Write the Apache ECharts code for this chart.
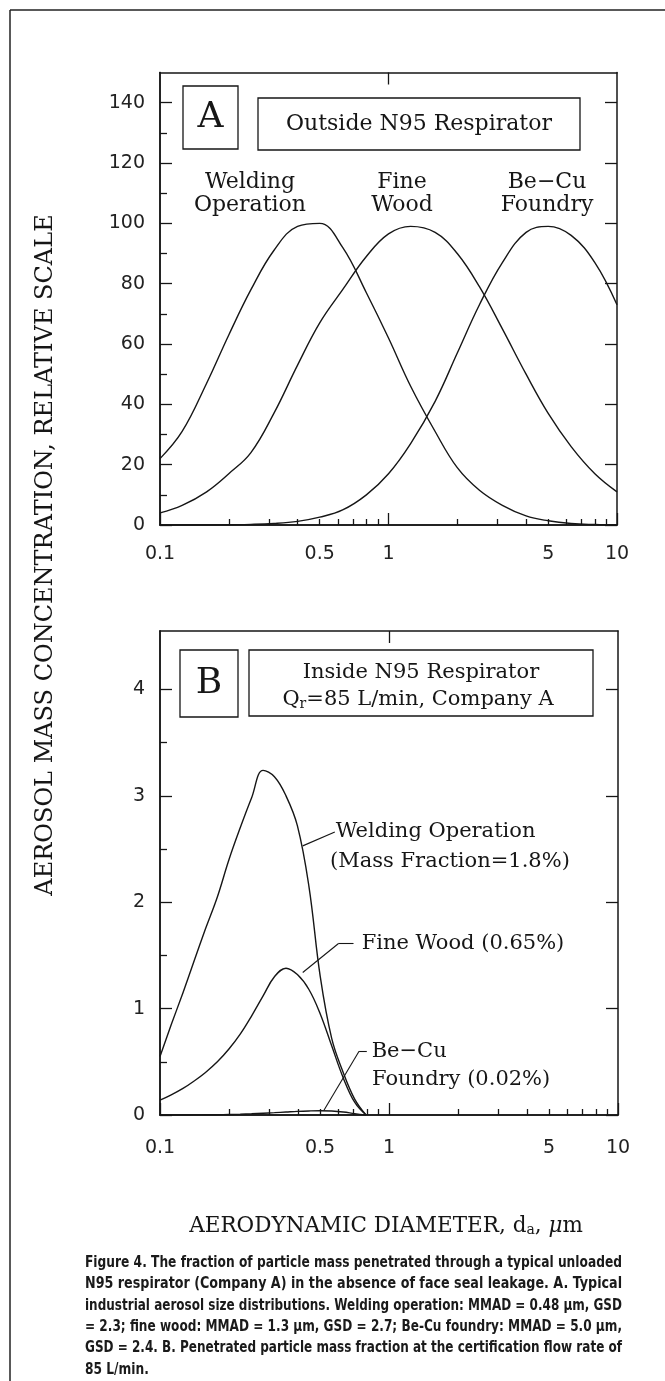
<!DOCTYPE html>
<html><head><meta charset="utf-8">
<script src="https://cdn.jsdelivr.net/npm/echarts@6/dist/echarts.min.js"></script>
<style>html,body{margin:0;padding:0;background:#fff}#c{width:665px;height:1381px}</style>
</head><body><div id="c"></div>
<script>
// ---------- Axis ticks / labels ----------
const xTickValues = [0.1, 0.5, 1, 5, 10];
const xTickLabels = ['0.1', '0.5', '1', '5', '10'];
const xMajorTicks = [0.1, 1, 10];
const xMinorTicks = [0.2, 0.3, 0.4, 0.5, 0.6, 0.7, 0.8, 0.9, 2, 3, 4, 5, 6, 7, 8, 9];
const yALabels = [0, 20, 40, 60, 80, 100, 120, 140];
const yAMinor = [10, 30, 50, 70, 90, 110, 130];
const yBLabels = [0, 1, 2, 3, 4];
const yBMinor = [0.5, 1.5, 2.5, 3.5];

// ---------- Panel A: outside respirator (relative scale) ----------
const dA = [0.1, 0.125, 0.16, 0.2, 0.25, 0.315, 0.4, 0.5, 0.63, 0.8, 1, 1.25, 1.6, 2, 2.5, 3.15, 4, 5, 6.3, 8, 10];
const weldA = [22, 31, 47, 63, 78, 91, 99, 100, 92, 77, 62, 46, 31, 19, 11.5, 6.5, 3, 1.4, 0.5, 0.15, 0];
const woodA = [4, 6.5, 11, 17, 24, 37, 53, 67, 78, 89, 96.5, 99, 97, 90, 79, 65, 50, 37, 26, 17, 11];
const becuA = [0, 0, 0, 0.1, 0.2, 0.5, 1.2, 2.6, 5, 10, 17, 27, 41, 57, 73, 87, 97, 99, 96, 87, 73];

// ---------- Panel B: inside respirator ----------
const dB = [0.1, 0.112, 0.126, 0.141, 0.158, 0.178, 0.2, 0.224, 0.251, 0.282, 0.316, 0.355, 0.398, 0.447, 0.501, 0.562, 0.631, 0.708, 0.794];
const weldB = [0.55, 0.85, 1.15, 1.45, 1.75, 2.05, 2.4, 2.7, 2.98, 3.24, 3.18, 3.0, 2.72, 2.15, 1.3, 0.72, 0.4, 0.15, 0];
const woodB = [0.14, 0.19, 0.25, 0.32, 0.4, 0.5, 0.62, 0.76, 0.93, 1.12, 1.3, 1.38, 1.32, 1.18, 0.95, 0.65, 0.35, 0.12, 0];
const becuB = [0, 0, 0, 0.001, 0.002, 0.003, 0.005, 0.008, 0.012, 0.017, 0.022, 0.028, 0.034, 0.038, 0.04, 0.037, 0.028, 0.013, 0];

const INK = '#161616';
const SERIF = '"DejaVu Serif", "Liberation Serif", serif';
const SANS = '"DejaVu Sans", "Liberation Sans", sans-serif';
const CAPFONT = 'bold 15px "Liberation Sans Narrow", "DejaVu Sans Condensed", "Roboto Condensed", sans-serif';
const lg = v => Math.log10(v);
const toXY = (xs, ys) => xs.map((x, i) => [lg(x), ys[i]]);

function xAxisDef(grid, pos, ticks, len, labels, margin) {
  return {
    type: 'value', gridIndex: grid, position: pos, min: -1, max: 1,
    splitLine: { show: false },
    axisLine: { show: true, onZero: false, lineStyle: { color: INK, width: 1.5 } },
    axisTick: { show: true, inside: true, length: len, customValues: ticks.map(lg), lineStyle: { color: INK, width: 1.3 } },
    axisLabel: labels ? {
      show: true, customValues: xTickValues.map(lg), margin: margin,
      fontFamily: SANS, fontSize: 19, color: '#222',
      formatter: v => { const i = xTickValues.findIndex(t => Math.abs(lg(t) - v) < 1e-6); return i >= 0 ? xTickLabels[i] : ''; }
    } : { show: false }
  };
}
function yAxisDef(grid, pos, max, ticks, len, labels) {
  return {
    type: 'value', gridIndex: grid, position: pos, min: 0, max: max,
    splitLine: { show: false },
    axisLine: { show: true, onZero: false, lineStyle: { color: INK, width: 1.5 } },
    axisTick: { show: true, inside: true, length: len, customValues: ticks, lineStyle: { color: INK, width: 1.3 } },
    axisLabel: labels ? {
      show: true, customValues: labels, margin: 15,
      fontFamily: SANS, fontSize: 19, color: '#222', formatter: v => String(v)
    } : { show: false }
  };
}
function curve(name, xs, ys, xi, yi, extra) {
  return Object.assign({
    name, type: 'line', xAxisIndex: xi, yAxisIndex: yi, data: toXY(xs, ys),
    symbol: 'none', smooth: 0.4, silent: true,
    lineStyle: { color: INK, width: 1.4 }
  }, extra || {});
}
function leader(segments) {
  return {
    silent: true, symbol: ['none', 'none'], label: { show: false },
    lineStyle: { type: 'solid', color: INK, width: 1.1 },
    data: segments.map(s => [{ coord: [lg(s[0]), s[1]] }, { coord: [lg(s[2]), s[3]] }])
  };
}

const chart = echarts.init(document.getElementById('c'), null, { renderer: 'canvas' });
chart.setOption({
  animation: false,
  backgroundColor: '#fff',
  grid: [
    { left: 160, top: 72.5, width: 457, height: 452.5, outerBoundsMode: 'none' },
    { left: 160, top: 631, width: 458, height: 484, outerBoundsMode: 'none' }
  ],
  xAxis: [
    xAxisDef(0, 'bottom', xMajorTicks, 12, true, 20),
    xAxisDef(0, 'bottom', xMinorTicks, 6, false),
    xAxisDef(0, 'top', [1], 12, false),
    xAxisDef(1, 'bottom', xMajorTicks, 12, true, 24),
    xAxisDef(1, 'bottom', xMinorTicks, 6, false),
    xAxisDef(1, 'top', [1], 12, false)
  ],
  yAxis: [
    yAxisDef(0, 'left', 150, yALabels, 12, yALabels),
    yAxisDef(0, 'left', 150, yAMinor, 7, null),
    yAxisDef(0, 'right', 150, yALabels, 12, null),
    yAxisDef(1, 'left', 4.55, yBLabels, 12, yBLabels),
    yAxisDef(1, 'left', 4.55, yBMinor, 7, null),
    yAxisDef(1, 'right', 4.55, yBLabels, 12, null)
  ],
  series: [
    curve('Welding Operation (A)', dA, weldA, 0, 0),
    curve('Fine Wood (A)', dA, woodA, 0, 0),
    curve('Be-Cu Foundry (A)', dA, becuA, 0, 0),
    curve('Welding Operation (B)', dB, weldB, 3, 3, { markLine: leader([[0.42, 2.53, 0.58, 2.66]]) }),
    curve('Fine Wood (B)', dB, woodB, 3, 3, { markLine: leader([[0.42, 1.34, 0.60, 1.61], [0.60, 1.61, 0.70, 1.61]]) }),
    curve('Be-Cu Foundry (B)', dB, becuB, 3, 3, { markLine: leader([[0.52, 0.045, 0.74, 0.6], [0.74, 0.6, 0.8, 0.6]]) })
  ]
});

// ---------- annotations ----------
const P = (x, y) => chart.convertToPixel({ gridIndex: 1 }, [lg(x), y]);
function txt(x, y, text, size, align, extra) {
  return Object.assign({
    type: 'text', x, y, silent: true,
    style: { text, fill: INK, font: size + 'px ' + SERIF, align: align || 'center', verticalAlign: 'middle', lineHeight: size + 1 }
  }, extra || {});
}
function box(x, y, w, h) {
  return { type: 'rect', silent: true, shape: { x, y, width: w, height: h }, style: { fill: 'none', stroke: INK, lineWidth: 1.3 } };
}
const pW1 = P(0.585, 2.66), pW2 = P(0.553, 2.38), pF = P(0.76, 1.61), pB1 = P(0.84, 0.6), pB2 = P(0.843, 0.33);

const caption = [
  'Figure 4. The fraction of particle mass penetrated through a typical unloaded',
  'N95 respirator (Company A) in the absence of face seal leakage. A. Typical',
  'industrial aerosol size distributions. Welding operation: MMAD = 0.48 µm, GSD',
  '= 2.3; fine wood: MMAD = 1.3 µm, GSD = 2.7; Be-Cu foundry: MMAD = 5.0 µm,',
  'GSD = 2.4. B. Penetrated particle mass fraction at the certification flow rate of',
  '85 L/min.'
];
const mctx = document.createElement('canvas').getContext('2d');
mctx.font = CAPFONT;
const capWidth = 537;
const scales = caption.map(s => capWidth / mctx.measureText(s).width);
const avgScale = scales.slice(0, 5).reduce((a, b) => a + b, 0) / 5;
const captionEls = caption.map((s, i) => ({
  type: 'text', x: 85, y: 1263 + i * 21.4, silent: true,
  scaleX: i < 5 ? scales[i] : avgScale,
  style: { text: s, fill: '#1a1a1a', align: 'left', verticalAlign: 'middle', font: CAPFONT }
}));

chart.setOption({
  graphic: [
    { type: 'line', silent: true, shape: { x1: 10, y1: 10, x2: 665, y2: 10 }, style: { stroke: '#222', lineWidth: 1.5 } },
    { type: 'line', silent: true, shape: { x1: 10, y1: 10, x2: 10, y2: 1381 }, style: { stroke: '#222', lineWidth: 1.5 } },
    // Panel A boxes
    box(183, 86, 55, 63),
    txt(210.5, 118, 'A', 36),
    box(258, 98, 322, 52),
    txt(419, 124, 'Outside N95 Respirator', 22),
    txt(250, 194, 'Welding\nOperation', 22),
    txt(402, 194, 'Fine\nWood', 22),
    txt(547, 194, 'Be\u2212Cu\nFoundry', 22),
    // Panel B boxes
    box(180, 650, 58, 67),
    txt(209, 684, 'B', 36),
    box(249, 650, 344, 66),
    txt(421, 673, 'Inside N95 Respirator', 21),
    {
      type: 'text', x: 418, y: 700, silent: true,
      style: {
        text: '{n|Q}{s|r}{n|=85 L/min, Company A}', align: 'center', verticalAlign: 'middle', fill: INK,
        rich: { n: { font: '21px ' + SERIF, fill: INK }, s: { font: '14px ' + SERIF, fill: INK, padding: [8, 0, 0, 0] } }
      }
    },
    // Panel B curve labels
    txt(pW1[0], pW1[1], 'Welding Operation', 21, 'left'),
    txt(pW2[0], pW2[1], '(Mass Fraction=1.8%)', 21, 'left'),
    txt(pF[0], pF[1], 'Fine Wood (0.65%)', 21, 'left'),
    txt(pB1[0], pB1[1], 'Be\u2212Cu', 21, 'left'),
    txt(pB2[0], pB2[1], 'Foundry (0.02%)', 21, 'left'),
    // axis titles
    txt(46, 555, 'AEROSOL MASS CONCENTRATION, RELATIVE SCALE', 24, 'center', { rotation: Math.PI / 2 }),
    {
      type: 'text', x: 386, y: 1226, silent: true,
      style: {
        text: '{n|AERODYNAMIC DIAMETER, d}{s|a}{n|, }{m|\u03bc}{n|m}', align: 'center', verticalAlign: 'middle', fill: INK,
        rich: {
          n: { font: '21.5px ' + SERIF, fill: INK },
          s: { font: '14px ' + SERIF, fill: INK, padding: [8, 0, 0, 0] },
          m: { font: 'italic 21.5px ' + SERIF, fill: INK }
        }
      }
    }
  ].concat(captionEls)
});
</script></body></html>
